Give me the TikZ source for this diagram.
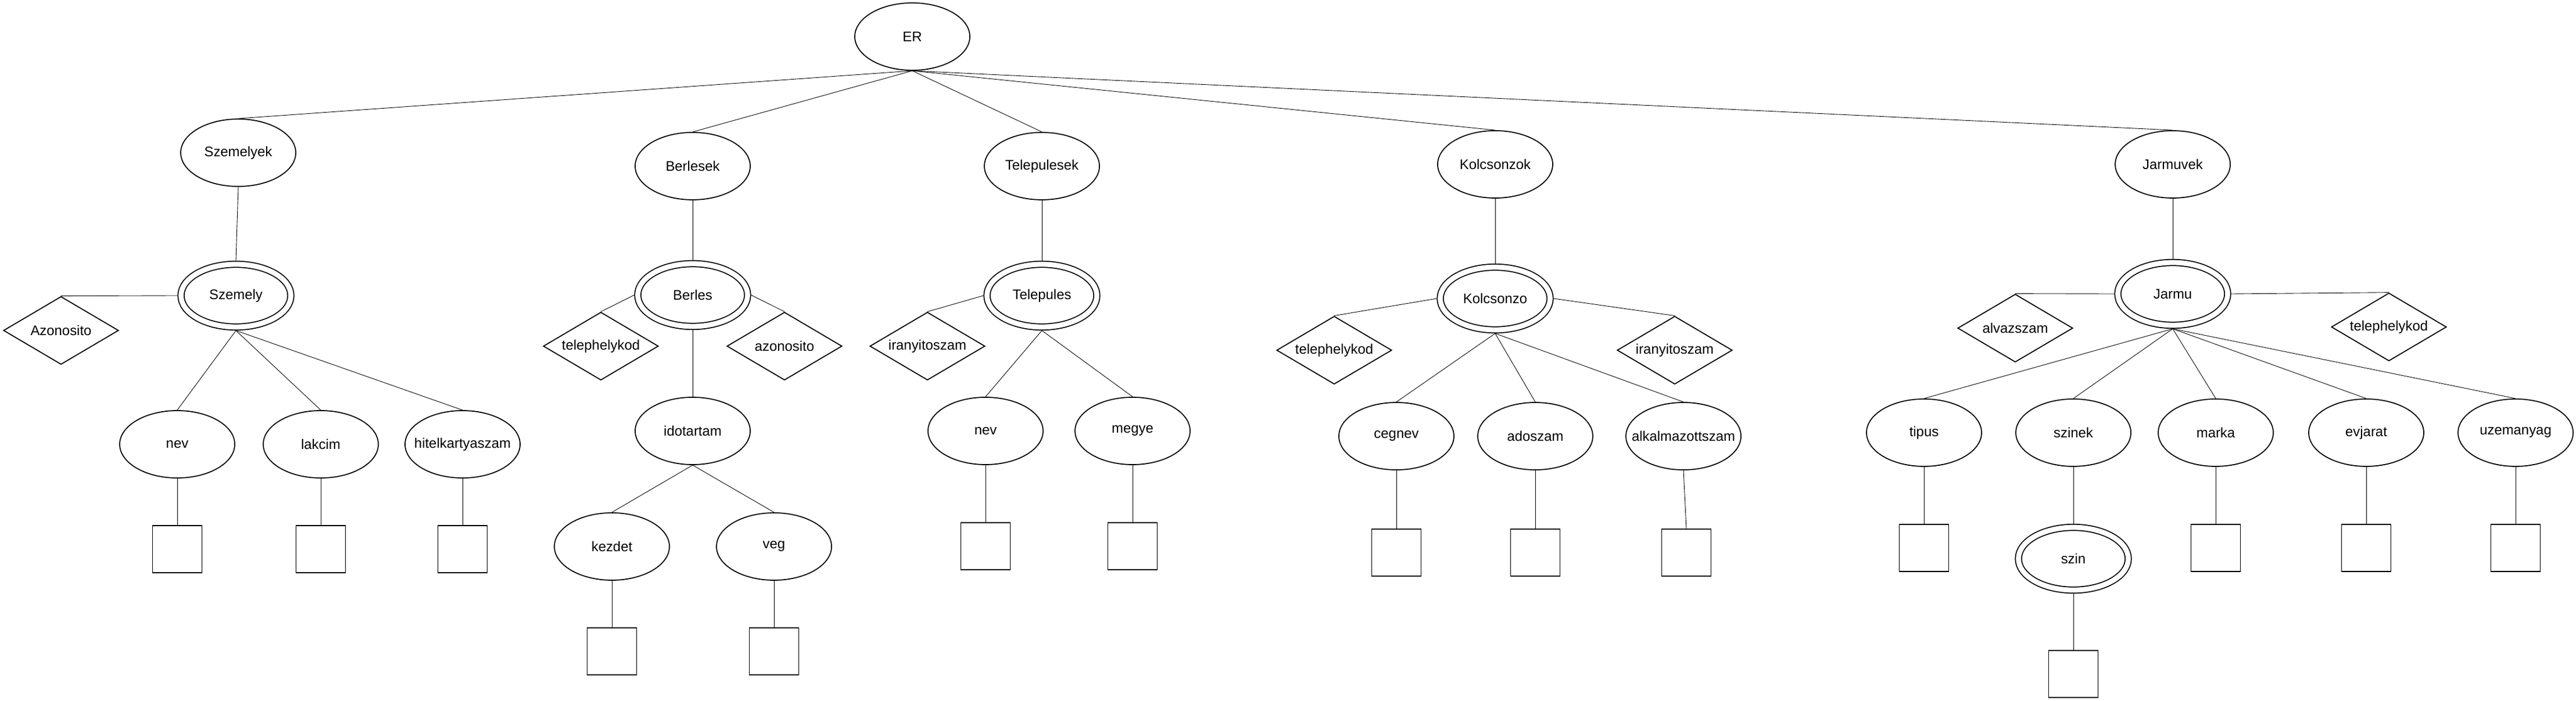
\documentclass[tikz,border=0pt]{standalone}
\usepackage{fontspec}
\setmainfont{Liberation Sans}
\usetikzlibrary{shapes.geometric, positioning}

\begin{document}
\begin{tikzpicture} [
        line width = 0.25pt,
        every node/.style = {font = \fontsize{6.8}{8}\selectfont},
        main node/.style = {ellipse, draw, line width = 0.5pt,
                inner sep = 0pt, inner xsep = -5mm,
                minimum width = 1.98cm, minimum height = 1.16cm},
        weak node/.style = {ellipse, draw, line width = 0.5pt,
                double, double distance = 2.5pt, outer sep = 1.75pt,
                inner sep = 0pt, inner xsep = -5mm,
                minimum width = 1.89cm, minimum height = 1.08cm},
        key node/.style = {diamond, draw, line width = 0.5pt, aspect = 2,
                inner sep = 0pt,
                minimum width = 1.98cm, minimum height = 1.17cm},
        box node/.style = {rectangle, draw, line width = 0.5pt,
                minimum width = 0.85cm, minimum height = 0.81cm}]

    \useasboundingbox (0, 0) rectangle (44.33, -12.07);

    % gyoker
    \node [main node] (er) at (15.70, -0.63) {ER};

    \node [main node] (szemelyek) at (4.10, -2.63) {Szemelyek};
    \node [main node] (berlesek) at (11.92, -2.86) {Berlesek};
    \node [main node] (telepulesek) at (17.93, -2.86) {Telepulesek};
    \node [main node] (kolcsonzok) at (25.73, -2.83) {Kolcsonzok};
    \node [main node] (jarmuvek) at (37.39, -2.83) {Jarmuvek};

    % Szemelyek
    \node [weak node] (szemely) at (4.06, -5.09) {Szemely};
    \node [key node] (szemely_azon) at (1.05, -5.69) {Azonosito};
    \node [main node] (szemely_nev) at (3.05, -7.65) {nev};
    \node [main node] (szemely_lakcim) at (5.52, -7.65) {lakcim};
    \node [main node] (szemely_hitel) at (7.96, -7.65) {hitelkartyaszam};
    \node [box node, below = 8mm of szemely_nev] (szemely_nev_box) {};
    \node [box node, below = 8mm of szemely_lakcim] (szemely_lakcim_box) {};
    \node [box node, below = 8mm of szemely_hitel] (szemely_hitel_box) {};

    % Berlesek
    \node [weak node] (berles) at (11.92, -5.08) {Berles};
    \node [key node] (berles_telep) at (10.34, -5.96) {telephelykod};
    \node [key node] (berles_azon) at (13.50, -5.96) {azonosito};
    \node [main node] (berles_ido) at (11.92, -7.42) {idotartam};
    \node [main node] (berles_kezdet) at (10.53, -9.41) {kezdet};
    \node [main node] (berles_veg) at (13.32, -9.41) {veg};
    \node [box node, below = 8mm of berles_kezdet] (berles_kezdet_box) {};
    \node [box node, below = 8mm of berles_veg] (berles_veg_box) {};

    % Telepulesek
    \node [weak node] (telepules) at (17.93, -5.09) {Telepules};
    \node [key node] (telepules_irsz) at (15.96, -5.96) {iranyitoszam};
    \node [main node] (telepules_nev) at (16.96, -7.42) {nev};
    \node [main node] (telepules_megye) at (19.49, -7.42) {megye};
    \node [box node, below = 9.8mm of telepules_nev] (telepules_nev_box) {};
    \node [box node, below = 9.8mm of telepules_megye] (telepules_megye_box) {};

    % Kolcsonzok
    \node [weak node] (kolcsonzo) at (25.73, -5.14) {Kolcsonzo};
    \node [key node] (kolcsonzo_telep) at (22.96, -6.03) {telephelykod};
    \node [key node] (kolcsonzo_irsz) at (28.82, -6.03) {iranyitoszam};
    \node [main node] (kolcsonzo_cegnev) at (24.03, -7.51) {cegnev};
    \node [main node] (kolcsonzo_ado) at (26.42, -7.51) {adoszam};
    \node [main node] (kolcsonzo_alk) at (28.97, -7.51) {alkalmazottszam};
    \node [box node, below = 1cm of kolcsonzo_cegnev] (kolcsonzo_cegnev_box) {};
    \node [box node, below = 1cm of kolcsonzo_ado] (kolcsonzo_ado_box) {};
    \node [box node, below = 1cm of kolcsonzo_alk, xshift = 0.5mm] (kolcsonzo_alk_box) {};

    % Jarmuvek
    \node [weak node] (jarmu) at (37.39, -5.06) {Jarmu};
    \node [key node] (jarmu_alvaz) at (34.68, -5.65) {alvazszam};
    \node [key node] (jarmu_telep) at (41.11, -5.63) {telephelykod};
    \node [main node] (jarmu_tipus) at (33.11, -7.45) {tipus};
    \node [main node] (jarmu_szinek) at (35.68, -7.45) {szinek};
    \node [main node] (jarmu_marka) at (38.13, -7.45) {marka};
    \node [main node] (jarmu_evjarat) at (40.72, -7.45) {evjarat};
    \node [main node] (jarmu_uzem) at (43.29, -7.45) {uzemanyag};
    \node [weak node, below = 9.8mm of jarmu_szinek] (jarmu_szin) {szin};
    \node [box node, below = 9.8mm of jarmu_tipus] (jarmu_tipus_box) {};
    \node [box node, below = 9.8mm of jarmu_marka] (jarmu_marka_box) {};
    \node [box node, below = 9.8mm of jarmu_evjarat] (jarmu_evjarat_box) {};
    \node [box node, below = 9.8mm of jarmu_uzem] (jarmu_uzem_box) {};
    \node [box node, below = 9.7mm of jarmu_szin] (jarmu_szin_box) {};

    % kapcsolatok
    \draw (er.south) -- (szemelyek.north);
    \draw (er.south) -- (berlesek.north);
    \draw (er.south) -- (telepulesek.north);
    \draw (er.south) -- (kolcsonzok.north);
    \draw (er.south) -- (jarmuvek.north);

    \draw (szemelyek.south) -- (szemely.north);
    \draw (szemely.west) -- (szemely_azon.north);
    \draw (szemely.south) -- (szemely_nev.north);
    \draw (szemely.south) -- (szemely_lakcim.north);
    \draw (szemely.south) -- (szemely_hitel.north);
    \draw (szemely_nev.south) -- (szemely_nev_box.north);
    \draw (szemely_lakcim.south) -- (szemely_lakcim_box.north);
    \draw (szemely_hitel.south) -- (szemely_hitel_box.north);

    \draw (berlesek.south) -- (berles.north);
    \draw (berles.west) -- (berles_telep.north);
    \draw (berles.east) -- (berles_azon.north);
    \draw (berles.south) -- (berles_ido.north);
    \draw (berles_ido.south) -- (berles_kezdet.north);
    \draw (berles_ido.south) -- (berles_veg.north);
    \draw (berles_kezdet.south) -- (berles_kezdet_box.north);
    \draw (berles_veg.south) -- (berles_veg_box.north);

    \draw (telepulesek.south) -- (telepules.north);
    \draw (telepules.west) -- (telepules_irsz.north);
    \draw (telepules.south) -- (telepules_nev.north);
    \draw (telepules.south) -- (telepules_megye.north);
    \draw (telepules_nev.south) -- (telepules_nev_box.north);
    \draw (telepules_megye.south) -- (telepules_megye_box.north);

    \draw (kolcsonzok.south) -- (kolcsonzo.north);
    \draw (kolcsonzo.west) -- (kolcsonzo_telep.north);
    \draw (kolcsonzo.east) -- (kolcsonzo_irsz.north);
    \draw (kolcsonzo.south) -- (kolcsonzo_cegnev.north);
    \draw (kolcsonzo.south) -- (kolcsonzo_ado.north);
    \draw (kolcsonzo.south) -- (kolcsonzo_alk.north);
    \draw (kolcsonzo_cegnev.south) -- (kolcsonzo_cegnev_box.north);
    \draw (kolcsonzo_ado.south) -- (kolcsonzo_ado_box.north);
    \draw (kolcsonzo_alk.south) -- (kolcsonzo_alk_box.north);

    \draw (jarmuvek.south) -- (jarmu.north);
    \draw (jarmu.west) -- (jarmu_alvaz.north);
    \draw (jarmu.east) -- (jarmu_telep.north);
    \draw (jarmu.south) -- (jarmu_tipus.north);
    \draw (jarmu.south) -- (jarmu_szinek.north);
    \draw (jarmu.south) -- (jarmu_marka.north);
    \draw (jarmu.south) -- (jarmu_evjarat.north);
    \draw (jarmu.south) -- (jarmu_uzem.north);
    \draw (jarmu_tipus.south) -- (jarmu_tipus_box.north);
    \draw (jarmu_szinek.south) -- (jarmu_szin.north);
    \draw (jarmu_szin.south) -- (jarmu_szin_box.north);
    \draw (jarmu_marka.south) -- (jarmu_marka_box.north);
    \draw (jarmu_evjarat.south) -- (jarmu_evjarat_box.north);
    \draw (jarmu_uzem.south) -- (jarmu_uzem_box.north);

\end{tikzpicture}
\end{document}
